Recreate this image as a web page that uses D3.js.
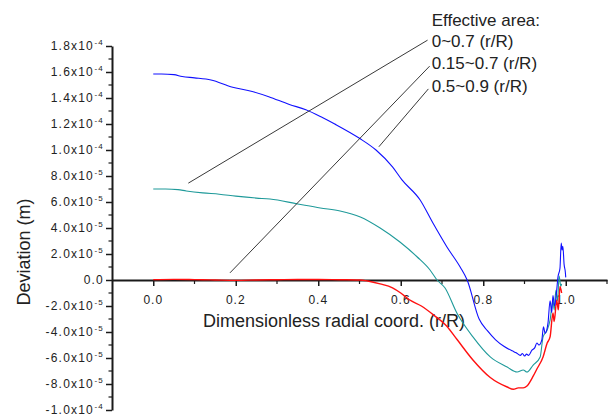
<!DOCTYPE html>
<html>
<head>
<meta charset="utf-8">
<script src="https://cdn.jsdelivr.net/npm/d3@7"></script>
<style>
  html, body { margin: 0; padding: 0; background: #fff; }
  svg { display: block; font-family: "Liberation Sans", Arial, sans-serif; }
</style>
</head>
<body>
<svg id="chart" width="614" height="417"></svg>
<script>
// ---------- data (x: r/R, y: deviation in m) ----------
const blueX = [0, 0.02, 0.05, 0.07, 0.10, 0.14, 0.19, 0.24, 0.28, 0.33, 0.37, 0.41, 0.44, 0.50, 0.54, 0.58, 0.603, 0.647, 0.678, 0.712, 0.744, 0.761, 0.79, 0.81, 0.83, 0.85, 0.87, 0.88, 0.89, 0.895, 0.90, 0.905, 0.91, 0.918, 0.925, 0.93, 0.935, 0.942, 0.946, 0.95, 0.957, 0.962, 0.966, 0.969, 0.973, 0.978, 0.981, 0.986, 0.989, 0.991, 0.993, 0.996, 0.999, 1.0];
const blueY = [15.85e-5, 15.85e-5, 15.8e-5, 15.65e-5, 15.55e-5, 15.38e-5, 14.85e-5, 14.5e-5, 14.1e-5, 13.5e-5, 13.1e-5, 12.5e-5, 12.0e-5, 10.9e-5, 10.0e-5, 8.7e-5, 7.7e-5, 6.15e-5, 4.38e-5, 2.54e-5, 1.0e-5, 0, -3.0e-5, -3.9e-5, -4.6e-5, -5.1e-5, -5.45e-5, -5.6e-5, -5.8e-5, -5.65e-5, -5.85e-5, -5.7e-5, -5.8e-5, -5.4e-5, -5.2e-5, -4.85e-5, -5.0e-5, -4.6e-5, -3.6e-5, -4.1e-5, -3.3e-5, -1.6e-5, -2.5e-5, -1.2e-5, -2.0e-5, -0.8e-5, 0.2e-5, 0.9e-5, 2.85e-5, 2.3e-5, 2.6e-5, 1.2e-5, 0.6e-5, 0.2e-5];

const tealX = [0, 0.03, 0.06, 0.08, 0.12, 0.16, 0.20, 0.25, 0.283, 0.35, 0.405, 0.453, 0.502, 0.55, 0.598, 0.64, 0.671, 0.688, 0.707, 0.736, 0.775, 0.817, 0.858, 0.882, 0.897, 0.906, 0.921, 0.938, 0.945, 0.955, 0.962, 0.969, 0.972, 0.976, 0.98, 0.984, 0.988, 0.99];
const tealY = [7.0e-5, 7.0e-5, 6.95e-5, 6.85e-5, 6.7e-5, 6.6e-5, 6.45e-5, 6.3e-5, 6.23e-5, 5.85e-5, 5.54e-5, 5.31e-5, 4.85e-5, 4.0e-5, 2.92e-5, 1.77e-5, 0.77e-5, 0, -0.6e-5, -2.54e-5, -4.38e-5, -5.92e-5, -6.7e-5, -7.08e-5, -6.92e-5, -7.08e-5, -6.54e-5, -5.92e-5, -4.38e-5, -3.85e-5, -3.08e-5, -1.54e-5, -2.3e-5, -0.8e-5, -1.6e-5, 0.3e-5, -0.5e-5, -0.3e-5];

const redX = [0, 0.05, 0.10, 0.12, 0.15, 0.20, 0.25, 0.30, 0.35, 0.40, 0.45, 0.50, 0.52, 0.55, 0.58, 0.60, 0.62, 0.65, 0.68, 0.71, 0.737, 0.775, 0.817, 0.858, 0.873, 0.885, 0.897, 0.906, 0.921, 0.93, 0.945, 0.955, 0.962, 0.969, 0.972, 0.978, 0.982, 0.986, 0.99];
const redY = [0.03e-5, 0.05e-5, 0.03e-5, 0.02e-5, 0, -0.03e-5, 0, 0.02e-5, 0.04e-5, 0.04e-5, 0.02e-5, 0, -0.08e-5, -0.3e-5, -0.6e-5, -1.0e-5, -1.5e-5, -2.0e-5, -2.7e-5, -3.5e-5, -4.6e-5, -6.15e-5, -7.5e-5, -8.23e-5, -8.4e-5, -8.3e-5, -8.3e-5, -8.15e-5, -7.4e-5, -6.85e-5, -5.92e-5, -4.85e-5, -4.38e-5, -2.54e-5, -3.2e-5, -1.54e-5, -2.3e-5, -0.5e-5, -1.0e-5];

const xTickValues = [0, 0.2, 0.4, 0.6, 0.8, 1.0];
const xTickLabels = ["0.0", "0.2", "0.4", "0.6", "0.8", "1.0"];
const xMinorTicks = [0.1, 0.3, 0.5, 0.7, 0.9, 1.1];
const yTickValues = [1.8e-4, 1.6e-4, 1.4e-4, 1.2e-4, 1.0e-4, 8e-5, 6e-5, 4e-5, 2e-5, 0, -2e-5, -4e-5, -6e-5, -8e-5, -1.0e-4];
const yTickLabels = ["1.8x10^-4", "1.6x10^-4", "1.4x10^-4", "1.2x10^-4", "1.0x10^-4", "8.0x10^-5", "6.0x10^-5", "4.0x10^-5", "2.0x10^-5", "0.0", "-2.0x10^-5", "-4.0x10^-5", "-6.0x10^-5", "-8.0x10^-5", "-1.0x10^-4"];
const yMinorTicks = [1.7e-4, 1.5e-4, 1.3e-4, 1.1e-4, 9e-5, 7e-5, 5e-5, 3e-5, 1e-5, -1e-5, -3e-5, -5e-5, -7e-5, -9e-5];

const annoTitle = "Effective area:";
const annoLabels = ["0~0.7 (r/R)", "0.15~0.7 (r/R)", "0.5~0.9 (r/R)"];
// leader lines: [fromX, fromY, toX, toY] in data units
const annoLines = [
  [0.665, 18.45e-5, 0.085, 7.45e-5],
  [0.670, 16.45e-5, 0.186, 0.55e-5],
  [0.667, 14.7e-5, 0.547, 10.25e-5]
];
const annoTextX = 0.675;
const annoTextY = [19.55e-5, 17.9e-5, 16.2e-5, 14.45e-5];

// ---------- chart ----------
const svg = d3.select("#chart");
const x = d3.scaleLinear().domain([-0.1, 1.1]).range([112, 607]);
const y = d3.scaleLinear().domain([-1.0e-4, 1.8e-4]).range([410, 46]);
const ink = "#1a1a1a";

// y axis (left)
const yAxis = svg.append("g").attr("transform", `translate(${x(-0.1)},0)`);
yAxis.call(d3.axisLeft(y).tickValues(yTickValues).tickSize(6).tickSizeOuter(0).tickFormat(""));
yAxis.select(".domain").attr("stroke", ink).attr("stroke-width", 2);
yAxis.selectAll(".tick line").attr("stroke", ink).attr("stroke-width", 1.5);
yAxis.selectAll(".minor").data(yMinorTicks).enter().append("line")
  .attr("x1", -3.5).attr("x2", 0).attr("y1", d => y(d)).attr("y2", d => y(d))
  .attr("stroke", ink).attr("stroke-width", 1.2);

// y tick labels
const yl = svg.append("g");
yTickValues.forEach((v, i) => {
  const parts = yTickLabels[i].split("^");
  const t = yl.append("text")
    .attr("x", x(-0.1) - 8).attr("y", y(v) + 4)
    .attr("text-anchor", "end")
    .attr("font-size", 12).attr("letter-spacing", 1.2)
    .attr("fill", "#222");
  t.append("tspan").text(parts[0]);
  if (parts[1]) {
    t.append("tspan").attr("dy", -5).attr("font-size", 8).attr("dx", 0.5).text(parts[1]);
  }
});

// x axis (at y = 0)
const xAxis = svg.append("g").attr("transform", `translate(0,${y(0)})`);
xAxis.call(d3.axisBottom(x).tickValues(xTickValues).tickSize(6).tickSizeOuter(0).tickFormat(""));
xAxis.select(".domain").attr("stroke", ink).attr("stroke-width", 2);
xAxis.selectAll(".tick line").attr("stroke", ink).attr("stroke-width", 1.5);
xAxis.selectAll(".minor").data(xMinorTicks).enter().append("line")
  .attr("x1", d => x(d)).attr("x2", d => x(d)).attr("y1", 0).attr("y2", 4)
  .attr("stroke", ink).attr("stroke-width", 1.2);
xTickValues.forEach((v, i) => {
  svg.append("text")
    .attr("x", x(v)).attr("y", y(0) + 24)
    .attr("text-anchor", "middle")
    .attr("font-size", 12).attr("letter-spacing", 1)
    .attr("fill", "#222")
    .text(xTickLabels[i]);
});

// axis titles
svg.append("text")
  .attr("x", 334).attr("y", 327)
  .attr("text-anchor", "middle").attr("font-size", 18).attr("fill", "#222")
  .text("Dimensionless radial coord. (r/R)");
svg.append("text")
  .attr("transform", "translate(30,252) rotate(-90)")
  .attr("text-anchor", "middle").attr("font-size", 18).attr("fill", "#222")
  .text("Deviation (m)");

// curves
const line = d3.line().x(d => x(d[0])).y(d => y(d[1])).curve(d3.curveMonotoneX);
const series = [
  { xs: tealX, ys: tealY, color: "#1f9a9a", w: 1.1 },
  { xs: redX, ys: redY, color: "#ff1010", w: 1.4 },
  { xs: blueX, ys: blueY, color: "#1010ff", w: 1.1 }
];
series.forEach(s => {
  svg.append("path")
    .datum(s.xs.map((v, i) => [v, s.ys[i]]))
    .attr("d", line)
    .attr("fill", "none")
    .attr("stroke", s.color)
    .attr("stroke-width", s.w)
    .attr("stroke-linejoin", "round");
});

// annotations
annoLines.forEach(l => {
  svg.append("line")
    .attr("x1", x(l[0])).attr("y1", y(l[1]))
    .attr("x2", x(l[2])).attr("y2", y(l[3]))
    .attr("stroke", "#222").attr("stroke-width", 0.9);
});
[annoTitle].concat(annoLabels).forEach((t, i) => {
  svg.append("text")
    .attr("x", x(annoTextX)).attr("y", y(annoTextY[i]))
    .attr("font-size", 17).attr("fill", "#222")
    .text(t);
});
</script>
</body>
</html>
